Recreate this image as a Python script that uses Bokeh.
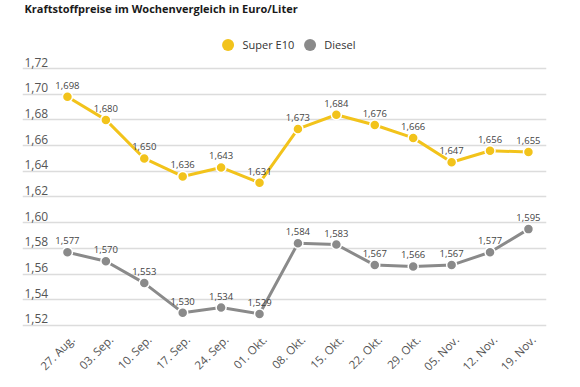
from bokeh.plotting import figure
from bokeh.models import ColumnDataSource, FixedTicker, Legend, LegendItem, Range1d, Label
from bokeh.core.properties import value
from bokeh.embed import file_html
from bokeh.resources import INLINE
import math

dates = ["27. Aug.", "03. Sep.", "10. Sep.", "17. Sep.", "24. Sep.", "01. Okt.", "08. Okt.",
         "15. Okt.", "22. Okt.", "29. Okt.", "05. Nov.", "12. Nov.", "19. Nov."]
e10 = [1.698, 1.680, 1.650, 1.636, 1.643, 1.631, 1.673, 1.684, 1.676, 1.666, 1.647, 1.656, 1.655]
diesel = [1.577, 1.570, 1.553, 1.530, 1.534, 1.529, 1.584, 1.583, 1.567, 1.566, 1.567, 1.577, 1.595]
y_ticks = [1.52, 1.54, 1.56, 1.58, 1.60, 1.62, 1.64, 1.66, 1.68, 1.70, 1.72]

YELLOW = "#f2c31b"
GRAY = "#8a8a8a"
FONT = "Open Sans"

def fmt(v, nd):
    return f"{v:.{nd}f}".replace(".", ",")

x = list(range(len(dates)))
x_left, x_right = -1.17, 12.47
H = 371
y_top, y_bottom = 1.77292, 1.48420

p = figure(width=564, height=H, output_backend="svg", toolbar_location=None,
           x_range=Range1d(x_left, x_right), y_range=Range1d(y_bottom, y_top),
           min_border_left=22, min_border_right=18, min_border_top=0, min_border_bottom=0)
p.outline_line_color = None
p.background_fill_color = "white"

p.xaxis.visible = False
p.yaxis.visible = False
p.ygrid.ticker = FixedTicker(ticks=y_ticks)
p.ygrid.grid_line_color = "#dcdcdc"
p.ygrid.grid_line_width = 1.5
p.xgrid.grid_line_color = None

# title at the top
title = Label(x=2, y=H, x_units="screen", y_units="screen",
              text="Kraftstoffpreise im Wochenvergleich in Euro/Liter",
              text_font=FONT, text_font_style="bold", text_font_size="11px",
              text_color="#1a1a1a", text_baseline="top", text_align="left")
p.add_layout(title)

# y tick labels above the gridlines
ysrc = ColumnDataSource(dict(x=[x_left] * len(y_ticks), y=y_ticks,
                             t=[fmt(v, 2) for v in y_ticks]))
p.text(x="x", y="y", text="t", source=ysrc, x_offset=2, y_offset=-2,
       text_baseline="bottom", text_align="left", text_font=value(FONT),
       text_font_size="12px", text_color="#555555")

# rotated category labels below the lowest gridline
xsrc = ColumnDataSource(dict(x=x, y=[y_ticks[0]] * len(x), t=dates))
p.text(x="x", y="y", text="t", source=xsrc, x_offset=5, y_offset=12, angle=math.pi / 4,
       text_align="right", text_baseline="middle", text_font=value(FONT),
       text_font_size="11.5px", text_color="#555555")

s1 = ColumnDataSource(dict(x=x, y=e10, t=[fmt(v, 3) for v in e10]))
s2 = ColumnDataSource(dict(x=x, y=diesel, t=[fmt(v, 3) for v in diesel]))

p.line("x", "y", source=s1, line_color=YELLOW, line_width=3)
p.scatter("x", "y", source=s1, size=10, fill_color=YELLOW, line_color="white", line_width=1.5)
p.line("x", "y", source=s2, line_color=GRAY, line_width=3)
p.scatter("x", "y", source=s2, size=10, fill_color=GRAY, line_color="white", line_width=1.5)

for s in (s1, s2):
    p.text(x="x", y="y", text="t", source=s, y_offset=-8, text_align="center",
           text_baseline="bottom", text_font=value(FONT), text_font_size="9.5px",
           text_color="#444444")

# legend swatches (off-range so only shown in legend)
d1 = p.scatter(x=[-100], y=[1.6], size=15, fill_color=YELLOW, line_color=None)
d2 = p.scatter(x=[-100], y=[1.6], size=15, fill_color=GRAY, line_color=None)
legend = Legend(items=[LegendItem(label="Super E10", renderers=[d1]),
                       LegendItem(label="Diesel", renderers=[d2])],
                orientation="horizontal", location="top_center",
                label_text_font=FONT, label_text_font_size="11px", label_text_color="#333333",
                border_line_color=None, background_fill_alpha=0, spacing=0,
                glyph_width=30, glyph_height=35, label_standoff=0, padding=0, margin=27)
p.add_layout(legend, "center")

open("out.html", "w").write(file_html(p, INLINE))
